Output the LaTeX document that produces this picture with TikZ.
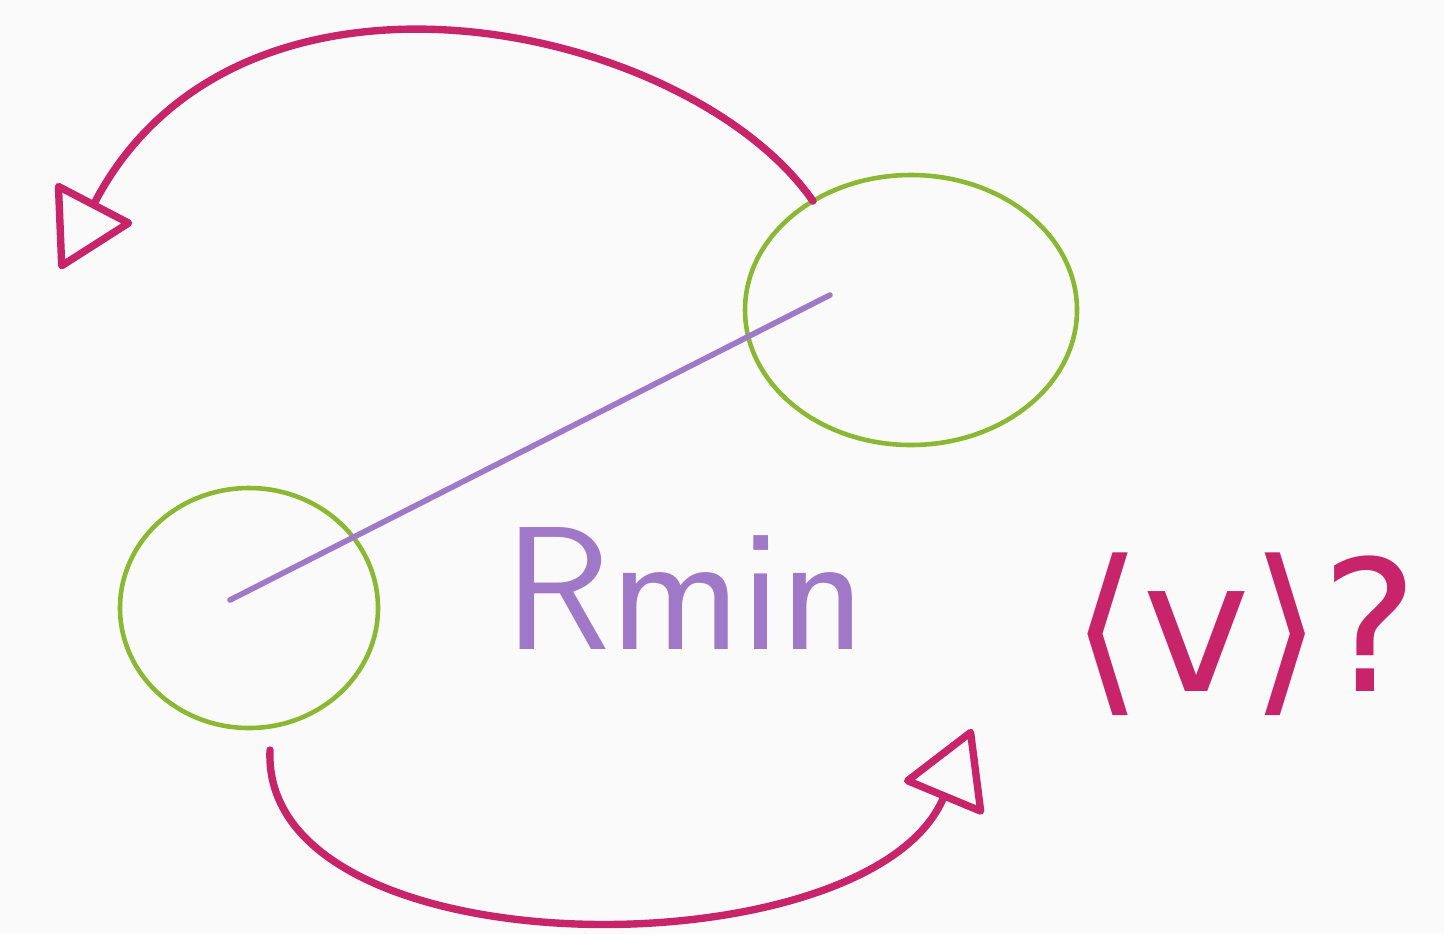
\documentclass[tikz,border=0pt]{standalone}
\usepackage{fontspec}
\usepackage{tikz}
\usetikzlibrary{arrows.meta,positioning,shapes.geometric,calc}
\newfontfamily\symfam{DejaVu Sans}
\definecolor{penpink}{RGB}{200,36,106}
\definecolor{pengreen}{RGB}{138,184,50}
\definecolor{penpurple}{RGB}{160,120,200}
\definecolor{paper}{RGB}{251,250,250}

\begin{document}
\begin{tikzpicture}[
    orb/.style={ellipse,draw=pengreen,line width=1.3pt,inner sep=0pt,outer sep=0pt},
    swing/.style={draw=penpink,line width=2.1pt,line cap=round,
      -{Triangle[open,length=8mm,width=9mm,line join=round]}},
    scrawl/.style={font=\sffamily\fontsize{50}{56}\selectfont}]
\fill[paper] (0,0) rectangle (14.44,9.34);
\useasboundingbox (0,0) rectangle (14.44,9.34);
% Orbiting bodies
\node[orb,minimum width=3.32cm,minimum height=2.70cm] (orbA) at (9.11,6.24) {};
\node[orb,minimum width=2.58cm,minimum height=2.40cm] (orbB) at (2.49,3.26) {};
% Separation
\coordinate (pA) at ($(orbA.center)+(-0.81,0.15)$);
\coordinate (pB) at ($(orbB.center)+(-0.19,0.08)$);
\draw[penpurple,line width=1.6pt,line cap=round] (pB) -- (pA);
\node[scrawl,text=penpurple] (rmin) at (6.85,3.45) {Rmin};
\node[scrawl,text=penpink,font=\symfam\fontsize{52}{58}\selectfont] (vel) at (12.45,3.00) {⟨v⟩?};
% Motion arrows
\coordinate (tipL) at (0.60,6.65);
\coordinate (tipR) at (9.72,2.05);
\coordinate (stB) at ($(orbB.south)+(0.21,-0.22)$);
\draw[swing] (orbA.132) .. controls (6.9,9.1) and (2.4,10.1) .. (tipL);
\draw[swing] (stB) .. controls (2.6,-0.4) and (8.7,-0.4) .. (tipR);
\end{tikzpicture}
\end{document}
